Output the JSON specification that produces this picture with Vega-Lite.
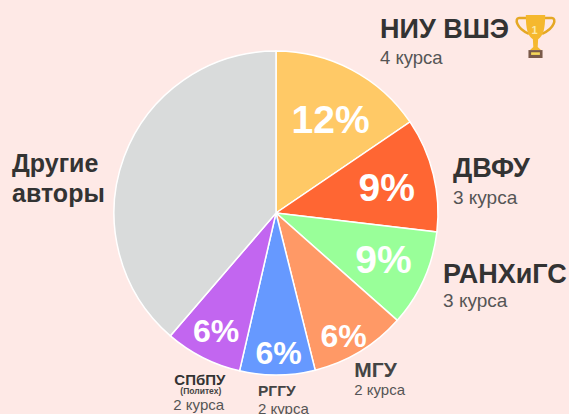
{"$schema":"https://vega.github.io/schema/vega-lite/v6.json","width":552,"height":426,"autosize":"none","padding":{"left":0,"top":0,"right":17,"bottom":0},"background":"#fee9e6","view":{"stroke":null},
"config":{"text":{"font":"Liberation Sans"}},
"data":{"values":[
{"name":"НИУ ВШЭ","sub":"4 курса","pct":"12%","ord":1,"value":55.8},
{"name":"ДВФУ","sub":"3 курса","pct":"9%","ord":2,"value":40.9},
{"name":"РАНХиГС","sub":"3 курса","pct":"9%","ord":3,"value":34.8},
{"name":"МГУ","sub":"2 курса","pct":"6%","ord":4,"value":34.5},
{"name":"РГГУ","sub":"2 курса","pct":"6%","ord":5,"value":27},
{"name":"СПбПУ","note":"(Политех)","sub":"2 курса","pct":"6%","ord":6,"value":27.7},
{"name":"Другие авторы","ord":7,"value":139.3}]},
"transform":[{"stack":"value","groupby":[],"sort":[{"field":"ord"}],"as":["a0","a1"]},{"calculate":"(datum.a0+datum.a1)/2","as":"mid"}],
"encoding":{"theta":{"field":"mid","type":"quantitative","scale":{"domain":[0,360]}}},
"layer":[
{"mark":{"type":"arc","outerRadius":162,"stroke":"#ffffff","strokeWidth":1.5},"encoding":{"theta":{"field":"a0","type":"quantitative","scale":{"domain":[0,360]}},"theta2":{"field":"a1"},"color":{"field":"name","type":"nominal","legend":null,"scale":{"domain":["НИУ ВШЭ","ДВФУ","РАНХиГС","МГУ","РГГУ","СПбПУ","Другие авторы"],"range":["#ffc966","#ff6633","#99ff99","#ff9966","#6699ff","#c266f0","#d9dbdb"]}}}},
{"transform":[{"filter":"datum.ord==1"}],"mark":{"type":"text","radius":108,"dx":4,"dy":3,"fontSize":39,"fontWeight":"bold","fill":"#ffffff"},"encoding":{"text":{"field":"pct"}}},
{"transform":[{"filter":"datum.ord==2"}],"mark":{"type":"text","radius":115,"dx":-1,"dy":3,"fontSize":39,"fontWeight":"bold","fill":"#ffffff"},"encoding":{"text":{"field":"pct"}}},
{"transform":[{"filter":"datum.ord==3"}],"mark":{"type":"text","radius":115,"dx":2.5,"dy":1,"fontSize":39,"fontWeight":"bold","fill":"#ffffff"},"encoding":{"text":{"field":"pct"}}},
{"transform":[{"filter":"datum.ord==4"}],"mark":{"type":"text","radius":137,"dx":-3.5,"dy":7,"fontSize":32,"fontWeight":"bold","fill":"#ffffff"},"encoding":{"text":{"field":"pct"}}},
{"transform":[{"filter":"datum.ord==5"}],"mark":{"type":"text","radius":137,"dx":1.5,"dy":4,"fontSize":32,"fontWeight":"bold","fill":"#ffffff"},"encoding":{"text":{"field":"pct"}}},
{"transform":[{"filter":"datum.ord==6"}],"mark":{"type":"text","radius":137,"dx":2,"dy":-3,"fontSize":32,"fontWeight":"bold","fill":"#ffffff"},"encoding":{"text":{"field":"pct"}}},
{"transform":[{"filter":"datum.ord==1"}],"mark":{"type":"text","radius":162,"align":"left","baseline":"alphabetic","dx":28.2,"dy":-31.8,"fontSize":27,"fontWeight":"bold","fill":"#333333"},"encoding":{"text":{"field":"name"}}},
{"transform":[{"filter":"datum.ord==1"}],"mark":{"type":"text","radius":162,"align":"left","baseline":"alphabetic","dx":28.2,"dy":-5.8,"fontSize":18.5,"fill":"#555555"},"encoding":{"text":{"field":"sub"}}},
{"transform":[{"filter":"datum.ord==2"}],"mark":{"type":"text","radius":162,"align":"left","baseline":"alphabetic","dx":19.6,"dy":2.2,"fontSize":27,"fontWeight":"bold","fill":"#333333"},"encoding":{"text":{"field":"name"}}},
{"transform":[{"filter":"datum.ord==2"}],"mark":{"type":"text","radius":162,"align":"left","baseline":"alphabetic","dx":19.6,"dy":29.2,"fontSize":19,"fill":"#555555"},"encoding":{"text":{"field":"sub"}}},
{"transform":[{"filter":"datum.ord==3"}],"mark":{"type":"text","radius":162,"align":"left","baseline":"alphabetic","dx":19.2,"dy":3.6,"fontSize":27,"fontWeight":"bold","fill":"#333333"},"encoding":{"text":{"field":"name"}}},
{"transform":[{"filter":"datum.ord==3"}],"mark":{"type":"text","radius":162,"align":"left","baseline":"alphabetic","dx":19.2,"dy":27.6,"fontSize":19,"fill":"#555555"},"encoding":{"text":{"field":"sub"}}},
{"transform":[{"filter":"datum.ord==4"}],"mark":{"type":"text","radius":162,"align":"left","baseline":"alphabetic","dx":-5.8,"dy":25.4,"fontSize":21,"fontWeight":"bold","fill":"#444444"},"encoding":{"text":{"field":"name"}}},
{"transform":[{"filter":"datum.ord==4"}],"mark":{"type":"text","radius":162,"align":"left","baseline":"alphabetic","dx":-5.8,"dy":43.4,"fontSize":15,"fill":"#555555"},"encoding":{"text":{"field":"sub"}}},
{"transform":[{"filter":"datum.ord==5"}],"mark":{"type":"text","radius":162,"align":"left","baseline":"alphabetic","dx":-19.4,"dy":21,"fontSize":15.5,"fontWeight":"bold","fill":"#444444"},"encoding":{"text":{"field":"name"}}},
{"transform":[{"filter":"datum.ord==5"}],"mark":{"type":"text","radius":162,"align":"left","baseline":"alphabetic","dx":-19.4,"dy":39,"fontSize":15,"fill":"#555555"},"encoding":{"text":{"field":"sub"}}},
{"transform":[{"filter":"datum.ord==6"}],"mark":{"type":"text","radius":162,"align":"left","baseline":"alphabetic","dx":-28.5,"dy":27.7,"fontSize":15,"fontWeight":"bold","fill":"#333333"},"encoding":{"text":{"field":"name"}}},
{"transform":[{"filter":"datum.ord==6"}],"mark":{"type":"text","radius":162,"align":"left","baseline":"alphabetic","dx":-22.5,"dy":36.7,"fontSize":8.5,"fontWeight":"bold","fill":"#444444"},"encoding":{"text":{"field":"note"}}},
{"transform":[{"filter":"datum.ord==6"}],"mark":{"type":"text","radius":162,"align":"left","baseline":"alphabetic","dx":-29.5,"dy":52.7,"fontSize":15,"fill":"#555555"},"encoding":{"text":{"field":"sub"}}},
{"transform":[{"filter":"datum.ord==7"}],"mark":{"type":"text","radius":162,"align":"left","baseline":"alphabetic","dx":-112.1,"dy":15.3,"fontSize":25,"fontWeight":"bold","fill":"#333333","lineBreak":" ","lineHeight":30},"encoding":{"text":{"field":"name"}}},
{"transform":[{"filter":"datum.ord==1"}],"encoding":{"theta":null},"mark":{"type":"point","x":535.5,"y":36,"size":1936,"shape":"M-0.42,-0.82 L-0.75,-0.82 C-0.95,-0.82 -0.9,-0.35 -0.3,-0.1 M0.42,-0.82 L0.75,-0.82 C0.95,-0.82 0.9,-0.35 0.3,-0.1","filled":false,"stroke":"#e5a824","strokeWidth":2.5,"opacity":1}},
{"transform":[{"filter":"datum.ord==1"}],"encoding":{"theta":null},"mark":{"type":"point","x":535.5,"y":36,"size":1936,"shape":"M-0.44,-0.95 L0.44,-0.95 C0.44,-0.3 0.35,0 0.12,0.15 L0.1,0.5 L0.25,0.64 L-0.25,0.64 L-0.1,0.5 L-0.12,0.15 C-0.35,0 -0.44,-0.3 -0.44,-0.95 Z","filled":true,"fill":"#f5b82e","strokeWidth":0,"opacity":1}},
{"transform":[{"filter":"datum.ord==1"}],"encoding":{"theta":null},"mark":{"type":"point","x":535.5,"y":36,"size":1936,"shape":"M-0.32,0.64 L0.32,0.64 L0.32,1 L-0.32,1 Z","filled":true,"fill":"#7a5a4a","strokeWidth":0,"opacity":1}},
{"transform":[{"filter":"datum.ord==1"}],"encoding":{"theta":null},"mark":{"type":"point","x":535.5,"y":36,"size":1936,"shape":"M-0.2,0.74 L0.2,0.74 L0.2,0.86 L-0.2,0.86 Z","filled":true,"fill":"#f5d75a","strokeWidth":0,"opacity":1}},
{"transform":[{"filter":"datum.ord==1"}],"encoding":{"theta":null},"mark":{"type":"text","x":534.5,"y":31,"text":"1","fontSize":11,"fontWeight":"bold","fill":"#fde9a8"}}
]}
